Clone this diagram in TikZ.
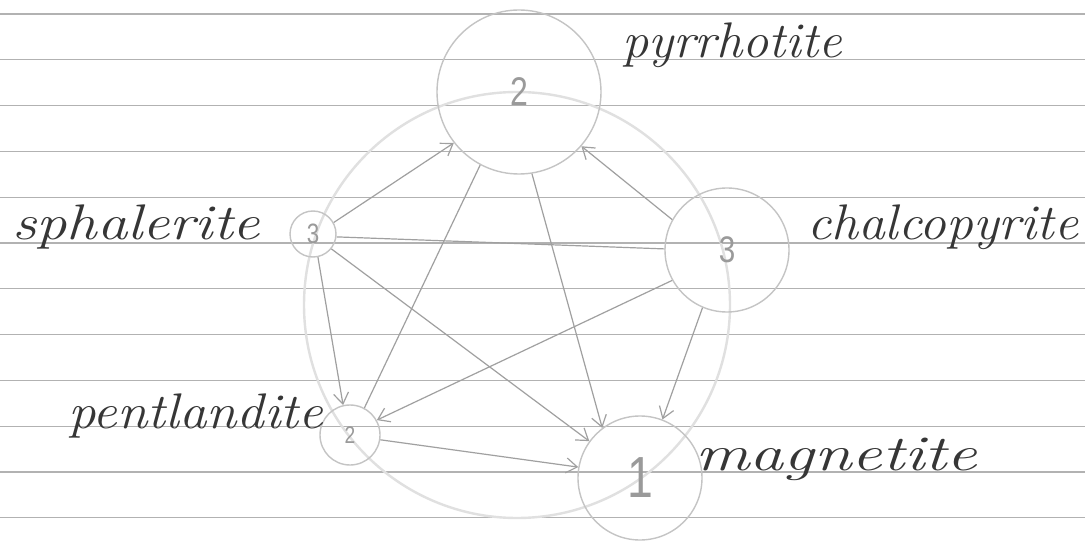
\documentclass[tikz,border=0pt]{standalone}
\usepackage{fontspec}
\usepackage{graphicx}
\usetikzlibrary{arrows.meta}
\newfontfamily\digitfont{Liberation Sans}
\definecolor{rulec}{HTML}{B2B2B2}
\definecolor{bigc}{HTML}{E0E0E0}
\definecolor{nodec}{HTML}{C4C4C4}
\definecolor{edgec}{HTML}{A0A0A0}
\definecolor{ink}{HTML}{363636}
\definecolor{digitc}{HTML}{9A9A9A}
\newcommand{\hwtext}[2]{\resizebox{#1}{\height}{\fontsize{50}{56}\selectfont\itshape #2}}
\newcommand{\dg}[2]{\scalebox{0.8}[1]{\digitfont\fontsize{#1}{#1}\selectfont #2}}
\begin{document}
\begin{tikzpicture}[x=1pt,y=-1pt,
  mineral/.style={circle, draw=nodec, line width=1.4pt, inner sep=0pt, text=digitc},
  link/.style={draw=edgec, line width=1.2pt},
  arr/.style={link, -{Straight Barb[length=11pt,width=15pt]}},
  hand/.style={text=ink, inner sep=0pt, anchor=base west}]
\fill[white] (0,0) rectangle (1085,548);
\useasboundingbox (0,0) rectangle (1085,548);
\foreach \k in {0,...,11} \draw[rulec, line width=1.1pt] (0,{14+45.8*\k}) -- (1085,{14+45.8*\k});
\draw[bigc, line width=2.4pt] (517,305) circle[radius=213];
% nodes
\node[mineral, minimum size=164pt] (pyr) at (519,92) {\dg{40}{2}};
\node[mineral, minimum size=46pt] (sph) at (313,234) {\dg{28}{3}};
\node[mineral, minimum size=124pt] (chal) at (727,250) {\dg{37}{3}};
\node[mineral, minimum size=60pt] (pent) at (350,435) {\dg{24}{2}};
\node[mineral, minimum size=124pt] (mag) at (640,478) {\dg{58}{1}};
% labels
\node[hand] (lpyr) at (622,58) {\hwtext{220pt}{pyrrhotite}};
\node[hand] (lsph) at (12,240) {\hwtext{248pt}{sphalerite}};
\node[hand] (lchal) at (807,240) {\hwtext{271pt}{chalcopyrite}};
\node[hand] (lpent) at (68,428) {\hwtext{255pt}{pentlandite}};
\node[hand] (lmag) at (695,470) {\hwtext{282pt}{magnetite}};
% connectors
\draw[arr] (sph.29) -- (pyr.218);
\draw[arr] (chal.151) -- (pyr.319);
\draw[link] (sph.-7) -- (chal.179);
\draw[link] (pyr.242) -- (pent.62);
\draw[arr] (pyr.279) -- (mag.127);
\draw[arr] (sph.282) -- (pent.103);
\draw[arr] (sph.321) -- (mag.144);
\draw[arr] (chal.209) -- (pent.29);
\draw[arr] (chal.247) -- (mag.69);
\draw[arr] (pent.351) -- (mag.170);
\end{tikzpicture}
\end{document}
